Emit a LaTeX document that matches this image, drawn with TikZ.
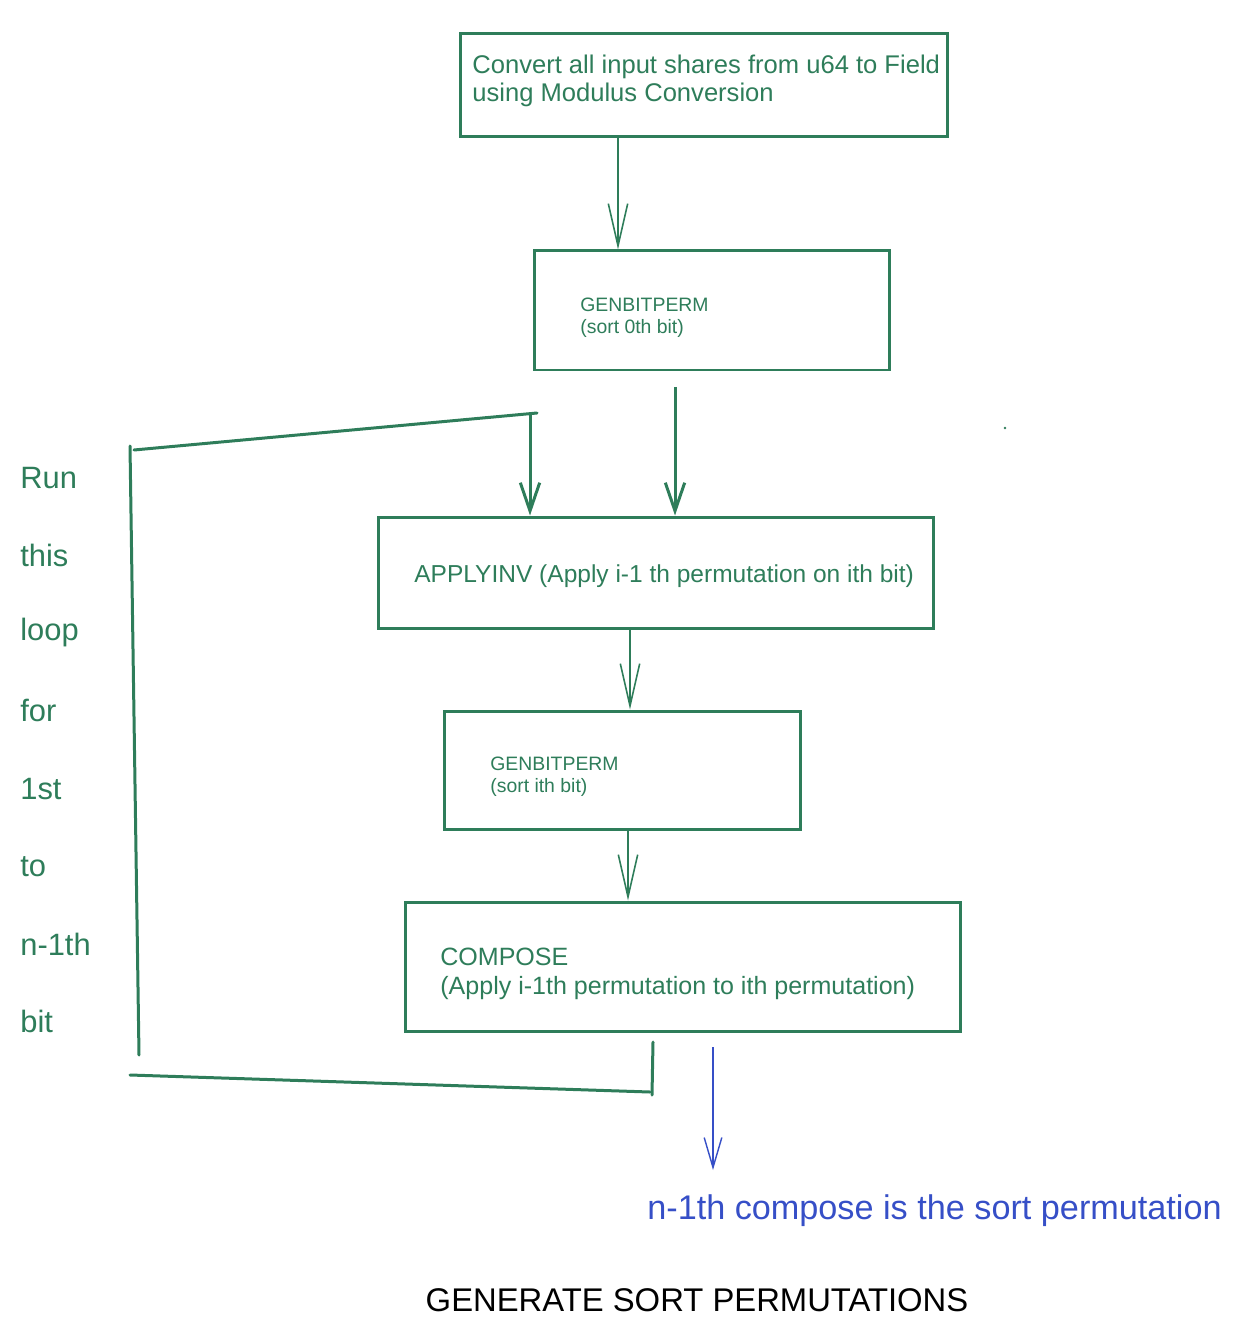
\documentclass[tikz,border=0pt]{standalone}
\usepackage{fontspec}
\setmainfont{Liberation Sans}
\usetikzlibrary{arrows.meta}
\definecolor{grn}{RGB}{46,125,90}
\definecolor{blu}{RGB}{54,79,199}
\tikzset{
  box/.style={draw=grn, line width=1.7pt, rectangle, inner sep=0pt},
  thinarr/.style={draw=grn, line width=0.9pt, -{Straight Barb[length=24pt, width=11pt, line width=0.9pt]}},
  thickarr/.style={draw=grn, line width=1.7pt, -{Straight Barb[length=16pt, width=11pt, line width=1.7pt]}},
  bluearr/.style={draw=blu, line width=0.8pt, -{Straight Barb[length=17pt, width=10pt, line width=0.8pt]}},
  loopline/.style={draw=grn, line width=1.7pt, line cap=round},
  txt/.style={text=grn, anchor=west, inner sep=0pt, align=left},
  word/.style={text=grn, anchor=west, inner sep=0pt, font=\fontsize{17.5}{20}\selectfont},
}
\begin{document}
\begin{tikzpicture}[x=0.567pt, y=-0.567pt]
\useasboundingbox (0,0) rectangle (1250,1336);
% boxes
\node[box, minimum width=487*0.567pt, minimum height=103*0.567pt] (b1) at (703.5,85.5) {};
\node[box, minimum width=355*0.567pt, minimum height=119*0.567pt] (b2) at (711.5,310.5) {};
\node[box, minimum width=555*0.567pt, minimum height=111*0.567pt] (b3) at (655.5,572.5) {};
\node[box, minimum width=356*0.567pt, minimum height=118*0.567pt] (b4) at (622,770) {};
\node[box, minimum width=555*0.567pt, minimum height=129*0.567pt] (b5) at (682.5,966.5) {};
% texts
\node[txt, font=\fontsize{14.5}{16}\selectfont] (t1) at (472,81) {Convert all input shares from u64 to Field\\using Modulus Conversion};
\node[txt, font=\fontsize{11}{12.5}\selectfont] (t2) at (580,318) {GENBITPERM\\(sort 0th bit)};
\node[txt, font=\fontsize{13.9}{16}\selectfont] (t3) at (414,576) {APPLYINV (Apply i-1 th permutation on ith bit)};
\node[txt, font=\fontsize{11}{12.5}\selectfont] (t4) at (490,777) {GENBITPERM\\(sort ith bit)};
\node[txt, font=\fontsize{14.2}{16.4}\selectfont] (t5) at (440,974) {COMPOSE\\(Apply i-1th permutation to ith permutation)};
% left words
\node[word] (w1) at (20,478) {Run};
\node[word] (w2) at (20,555) {this};
\node[word] (w3) at (20,633) {loop};
\node[word] (w4) at (20,710) {for};
\node[word] (w5) at (20,789) {1st};
\node[word] (w6) at (20,867) {to};
\node[word] (w7) at (20,944) {n-1th};
\node[word] (w8) at (20,1021) {bit};
% bottom texts
\node[anchor=west, inner sep=0pt, text=blu, font=\fontsize{19.4}{22}\selectfont] (res) at (647,1211) {n-1th compose is the sort permutation};
\node[inner sep=0pt, text=black, font=\fontsize{18.6}{21}\selectfont] (title) at (697,1300) {GENERATE SORT PERMUTATIONS};
% connector x positions
\coordinate (x618) at (618,0);
\coordinate (x630) at (630,0);
\coordinate (x628) at (628,0);
\coordinate (x530) at (530,0);
\coordinate (s2) at (675,387);
\coordinate (lt) at (537,413);
\coordinate (lj) at (530,413);
\coordinate (ltl) at (134,450);
\coordinate (lvt) at (130,446);
\coordinate (lvb) at (139,1055);
\coordinate (lbl) at (130,1075);
\coordinate (lbr) at (650,1092);
\coordinate (rvt) at (653,1042);
\coordinate (rvb) at (652,1095);
\coordinate (bs) at (713,1047);
\coordinate (be) at (713,1170);
% arrows
\draw[thinarr] (x618 |- b1.south) -- (x618 |- b2.north);
\draw[thickarr] (s2) -- (s2 |- b3.north);
\draw[thickarr] (lj) -- (x530 |- b3.north);
\draw[thinarr] (x630 |- b3.south) -- (x630 |- b4.north);
\draw[thinarr] (x628 |- b4.south) -- (x628 |- b5.north);
\draw[bluearr] (bs) -- (be);
% loop lines
\draw[loopline] (ltl) -- (lt);
\draw[loopline] (lvt) -- (lvb);
\draw[loopline] (lbl) -- (lbr);
\draw[loopline] (rvt) -- (rvb);
% stray dot
\fill[grn] (1005,428) circle (0.8pt);
\end{tikzpicture}
\end{document}
